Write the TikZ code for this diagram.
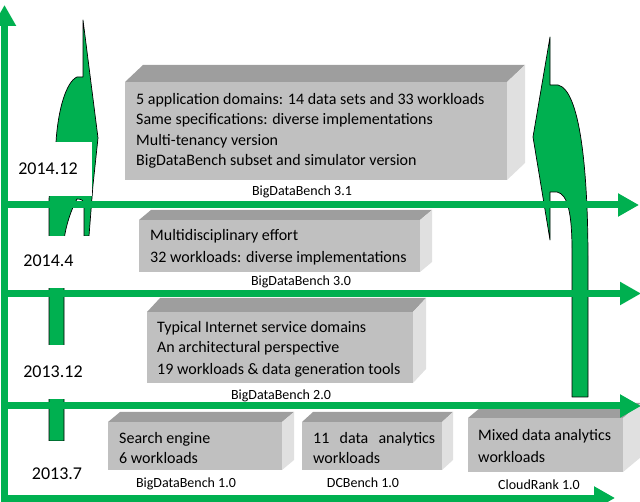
\documentclass[tikz,border=0pt]{standalone}
\usepackage{fontspec}
\setmainfont{Carlito}
\usetikzlibrary{arrows.meta}
\definecolor{grn}{HTML}{00B050}
\definecolor{cfront}{RGB}{192,192,192}
\definecolor{ctop}{RGB}{158,158,158}
\definecolor{cside}{RGB}{224,224,224}
\newcommand\cubebox[7]{%
  \node[frontface, minimum width=#4pt, minimum height=#5pt] (#1) at (#2,#3) {};
  \fill[ctop] (#1.north west) -- ++(#6,-#7) -- ([shift={(#6,-#7)}]#1.north east) -- (#1.north east) -- cycle;
  \fill[cside] (#1.north east) -- ++(#6,-#7) -- ([shift={(#6,-#7)}]#1.south east) -- (#1.south east) -- cycle;
}
\begin{document}
\begin{tikzpicture}[x=1pt,y=-1pt,
  shaft/.style={draw=grn, line width=7pt, -{Triangle[length=21pt,width=22pt]}},
  greenshape/.style={fill=grn, draw=black, line width=0.7pt, line join=round},
  frontface/.style={fill=cfront, draw=none, inner sep=0pt, outer sep=0pt, anchor=north west},
  boxtxt/.style={font=\fontsize{16}{20}\selectfont, inner sep=0pt, anchor=base west},
  captxt/.style={font=\fontsize{14}{16}\selectfont, inner sep=0pt, anchor=base},
  datetxt/.style={font=\fontsize{18}{20}\selectfont, inner sep=0pt},
  whitemask/.style={fill=white, draw=none}
]
\useasboundingbox (0,0) rectangle (640,502);

% curved arrows
\path[greenshape] (83,20) -- (98,138) -- (93,185) -- (89,236) -- (84,236) -- (84,205)
  .. controls (84,200) and (81,199) .. (77,199)
  .. controls (71,210) and (66,225) .. (64,240) -- (64,441) -- (49,441) -- (49,200)
  .. controls (50,175) and (53,155) .. (56,142)
  .. controls (58,110) and (66,82) .. (77,77) -- (83,77) -- cycle;
\path[greenshape] (550,37) -- (550,85) -- (558,85)
  .. controls (580,90) and (588,170) .. (588,260) -- (588,397) -- (572,397) -- (572,250)
  .. controls (572,215) and (568,194) .. (557,192) -- (550,192) -- (550,240) -- (533,137) -- cycle;

% masks behind date labels
\fill[whitemask] (9,142) rectangle (92,196);
\fill[whitemask] (9,236) rectangle (95,288);
\fill[whitemask] (9,345) rectangle (95,399);
\fill[whitemask] (9,441) rectangle (95,492);

\node[datetxt] (d1) at (48,169) {2014.12};
\node[datetxt] (d2) at (48.5,261) {2014.4};
\node[datetxt] (d3) at (53,372) {2013.12};
\node[datetxt] (d4) at (57,474) {2013.7};

% cubes
\cubebox{b31}{125}{82}{382}{98}{18}{17}
\cubebox{b30}{139}{220}{281}{52}{12}{10}
\cubebox{b20}{147}{312}{266}{71}{13}{14}
\cubebox{b10}{108}{422}{174}{48}{12}{10}
\cubebox{dc}{302}{422}{140}{48}{11}{10}
\cubebox{cr}{468}{418}{155}{54}{18}{15}

\node[boxtxt] (t31a) at (136,105) {5 application domains: 14 data sets and 33 workloads};
\node[boxtxt] (t31b) at (136,125) {Same specifications: diverse implementations};
\node[boxtxt] (t31c) at (136,145.5) {Multi-tenancy version};
\node[boxtxt] (t31d) at (136,166) {BigDataBench subset and simulator version};
\node[captxt] (c31) at (302,196) {BigDataBench 3.1};

\node[boxtxt] (t30a) at (150,241) {Multidisciplinary effort};
\node[boxtxt] (t30b) at (150,263) {32 workloads: diverse implementations};
\node[captxt] (c30) at (301,286) {BigDataBench 3.0};

\node[boxtxt] (t20a) at (157,333) {Typical Internet service domains};
\node[boxtxt] (t20b) at (157,353) {An architectural perspective};
\node[boxtxt] (t20c) at (157,375) {19 workloads \& data generation tools};
\node[captxt] (c20) at (281,400) {BigDataBench 2.0};

\node[boxtxt] (t10a) at (119,443) {Search engine};
\node[boxtxt] (t10b) at (119,464) {6 workloads};
\node[captxt] (c10) at (186,487) {BigDataBench 1.0};

\node[boxtxt] (tdca) at (313,443) {\makebox[122pt][s]{11 data analytics}};
\node[boxtxt] (tdcb) at (313,464) {workloads};
\node[captxt] (cdc) at (363,487) {DCBench 1.0};

\node[boxtxt] (tcra) at (478,441) {Mixed data analytics};
\node[boxtxt] (tcrb) at (478,462) {workloads};
\node[captxt] (ccr) at (539,489) {CloudRank 1.0};

% axes and time lines
\coordinate (o) at (4.5,498);
\coordinate (ytip) at (4.5,5);
\coordinate (xtip) at (615,498);
\draw[draw=grn, line width=7pt, {Triangle[length=21pt,width=22pt]}-{Triangle[length=21pt,width=22pt]}] (ytip) -- (o) -- (xtip);
\coordinate (h1s) at (4.5,205);   \coordinate (h1e) at (639,205);
\coordinate (h2s) at (4.5,293.5); \coordinate (h2e) at (641,293.5);
\coordinate (h3s) at (4.5,406);   \coordinate (h3e) at (641,406);
\draw[shaft] (h1s) -- (h1e);
\draw[shaft] (h2s) -- (h2e);
\draw[shaft] (h3s) -- (h3e);
\end{tikzpicture}
\end{document}
